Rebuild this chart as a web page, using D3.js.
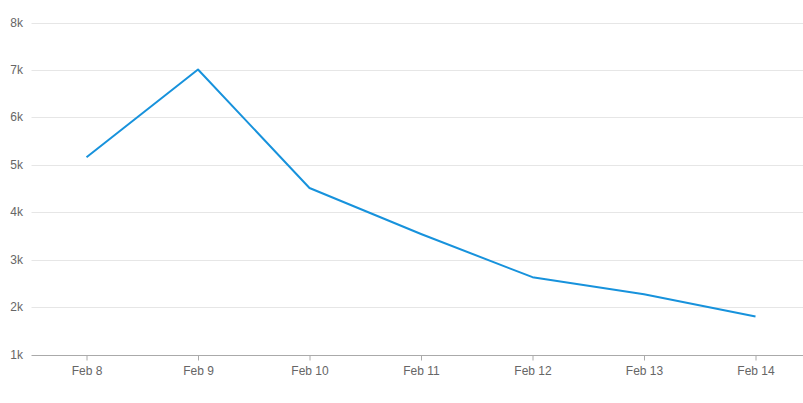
<!DOCTYPE html>
<html>
<head>
<meta charset="utf-8">
<script src="https://cdn.jsdelivr.net/npm/d3@7"></script>
<style>
  body { margin: 0; background: #fff; }
  text { font-family: "Liberation Sans", Arial, sans-serif; }
</style>
</head>
<body>
<svg id="chart"></svg>
<script>
const days = ["Feb 8", "Feb 9", "Feb 10", "Feb 11", "Feb 12", "Feb 13", "Feb 14"];
const values = [5160, 7010, 4510, 3540, 2630, 2270, 1800];
const yTicks = [1000, 2000, 3000, 4000, 5000, 6000, 7000, 8000];

const width = 803;
const height = 403;
const svg = d3.select('#chart')
  .attr('width', width)
  .attr('height', height);

const left = 31.5, right = 803;
const x = d3.scalePoint()
  .domain(days)
  .range([86.5, 755.5]);
const y = d3.scaleLinear()
  .domain([1000, 8000])
  .range([354.5, 22.5]);

// grid lines
svg.append('g')
  .selectAll('line')
  .data(yTicks.slice(1))
  .enter()
  .append('line')
    .attr('x1', left)
    .attr('x2', right)
    .attr('y1', d => Math.round(y(d)) + 0.5)
    .attr('y2', d => Math.round(y(d)) + 0.5)
    .attr('stroke', '#e6e6e6')
    .attr('stroke-width', 1);

// y labels
svg.append('g')
  .selectAll('text')
  .data(yTicks)
  .enter()
  .append('text')
    .attr('x', 23)
    .attr('y', d => y(d) + 4)
    .attr('text-anchor', 'end')
    .attr('font-size', 12)
    .attr('fill', '#666')
    .text(d => (d / 1000) + 'k');

// x axis
const xAxis = svg.append('g')
  .attr('transform', `translate(0,${Math.round(y(1000)) + 0.5})`)
  .call(d3.axisBottom(x).tickSize(5).tickPadding(6));
xAxis.select('.domain').attr('d', `M${left},0H${right}`).attr('stroke', '#aaa');
xAxis.selectAll('.tick line').attr('stroke', '#aaa');
xAxis.selectAll('.tick text')
  .attr('font-size', 12)
  .attr('font-family', '"Liberation Sans", Arial, sans-serif')
  .attr('fill', '#666');

const line = d3.line()
  .x((d, i) => x(days[i]))
  .y(d => y(d));

svg.append('path')
  .datum(values)
  .attr('fill', 'none')
  .attr('stroke', '#1792dc')
  .attr('stroke-width', 2)
  .attr('stroke-linejoin', 'round')
  .attr('d', line);
</script>
</body>
</html>
